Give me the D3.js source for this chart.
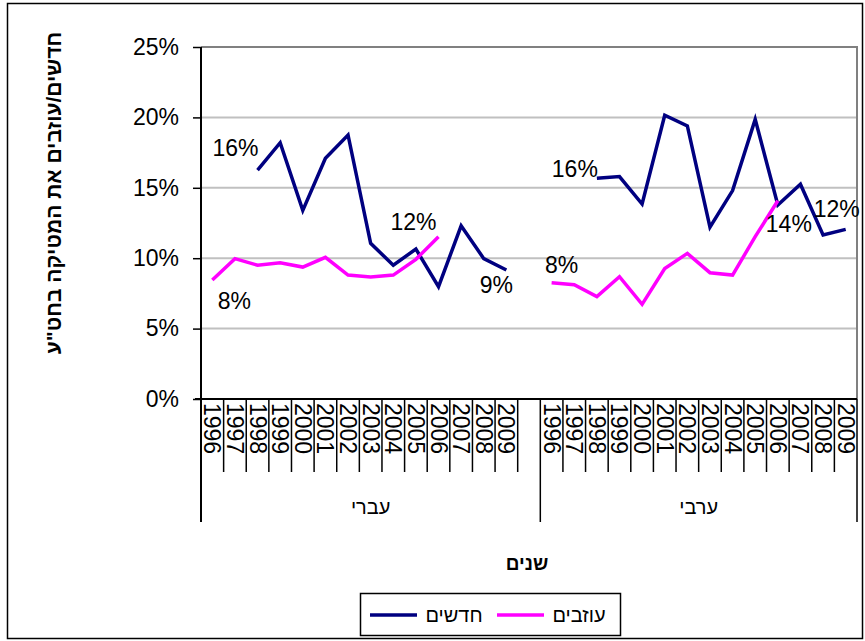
<!DOCTYPE html>
<html>
<head>
<meta charset="utf-8">
<script src="https://cdn.jsdelivr.net/npm/d3@7"></script>
<style>
    body { margin: 0; background: #fff; }
    text { font-family: 'Liberation Sans', Arial, sans-serif; }
</style>
</head>
<body>
<svg id="chart" width="865" height="641"></svg>
<script>
const years = ['1996', '1997', '1998', '1999', '2000', '2001', '2002', '2003', '2004', '2005', '2006', '2007', '2008', '2009'];
const groups = ['עברי', 'ערבי'];
const seriesNames = ['חדשים', 'עוזבים'];

// share of students, one value per year (null = no data)
const hebrewNew = [null, null, 0.1626, 0.182, 0.134, 0.171, 0.1875, 0.1106, 0.095, 0.1065, 0.0798, 0.123, 0.0997, 0.0916];
const hebrewLeave = [0.0845, 0.0997, 0.095, 0.0968, 0.0937, 0.1006, 0.088, 0.0866, 0.088, 0.0992, 0.1152, null, null, null];
const arabNew = [null, null, 0.1567, 0.158, 0.1385, 0.2015, 0.194, 0.122, 0.148, 0.1986, 0.1378, 0.1525, 0.1165, 0.1205];
const arabLeave = [0.0826, 0.0812, 0.0727, 0.0869, 0.0672, 0.0926, 0.1034, 0.0897, 0.088, 0.1153, 0.1408, null, null, null];

const yTicks = [0, 0.05, 0.1, 0.15, 0.2, 0.25];

// which points carry a data label, and where the label sits relative to the point
const labelSpots = [
    { g: 0, s: 0, year: '1998', dx: -22, dy: -22 },
    { g: 0, s: 1, year: '1996', dx: 22, dy: 21 },
    { g: 0, s: 1, year: '2006', dx: -25, dy: -15 },
    { g: 0, s: 0, year: '2009', dx: -10, dy: 15 },
    { g: 1, s: 0, year: '1998', dx: -22, dy: -9 },
    { g: 1, s: 1, year: '1996', dx: 10, dy: -18 },
    { g: 1, s: 1, year: '2006', dx: 11, dy: 23 },
    { g: 1, s: 0, year: '2009', dx: -9, dy: -20 },
];

const colors = ['#000080', '#ff00ff'];
const values = [
    [hebrewNew, hebrewLeave],
    [arabNew, arabLeave],
];

const svg = d3.select('#chart');
const plotLeft = 201, plotRight = 857, plotTop = 47, plotBottom = 399;
const font = 23;

// categories: 14 years, an empty slot, then 14 years again
const keys = [];
years.forEach((yr) => keys.push(`0-${yr}`));
keys.push('0-gap');
years.forEach((yr) => keys.push(`1-${yr}`));

const x = d3.scaleBand().domain(keys).range([plotLeft, plotRight]).padding(0);
const y = d3.scaleLinear().domain([0, 0.25]).range([plotBottom, plotTop]);
const bw = x.bandwidth();
const cx = (g, yr) => x(`${g}-${yr}`) + bw / 2;

svg.append('rect')
    .attr('x', 7.5).attr('y', 3.5)
    .attr('width', 855).attr('height', 635)
    .attr('fill', 'none').attr('stroke', '#000').attr('stroke-width', 1.5);

// gridlines
svg.append('g')
    .selectAll('line')
    .data(yTicks.slice(1, -1))
    .join('line')
    .attr('x1', plotLeft).attr('x2', plotRight)
    .attr('y1', (d) => y(d)).attr('y2', (d) => y(d))
    .attr('stroke', '#c0c0c0').attr('stroke-width', 2);

svg.append('path')
    .attr('d', `M${plotLeft},${y(0.25)}H${plotRight}V${plotBottom}`)
    .attr('fill', 'none').attr('stroke', '#808080').attr('stroke-width', 2);

// y axis
const yAxis = svg.append('g')
    .attr('transform', `translate(${plotLeft},0)`)
    .call(d3.axisLeft(y).tickValues(yTicks).tickFormat(d3.format('.0%')).tickSize(8).tickPadding(14));
yAxis.select('.domain').remove();
yAxis.selectAll('line').attr('stroke', '#000').attr('stroke-width', 1.5);
yAxis.selectAll('text').style('font-size', `${font}px`).attr('fill', '#000');

svg.append('line')
    .attr('x1', plotLeft).attr('x2', plotLeft).attr('y1', plotTop).attr('y2', 522)
    .attr('stroke', '#000').attr('stroke-width', 2);
svg.append('line')
    .attr('x1', plotLeft - 6).attr('x2', plotRight).attr('y1', plotBottom).attr('y2', plotBottom)
    .attr('stroke', '#000').attr('stroke-width', 2);

// category ticks and group separators
const edges = d3.range(keys.length + 1);
svg.append('g')
    .selectAll('line')
    .data(edges)
    .join('line')
    .attr('x1', (i) => plotLeft + i * bw).attr('x2', (i) => plotLeft + i * bw)
    .attr('y1', plotBottom)
    .attr('y2', (i) => (i === 0 || i === 15 || i === keys.length ? 522 : 472))
    .attr('stroke', '#000').attr('stroke-width', 1.5);

svg.append('g')
    .selectAll('text')
    .data(keys.filter((k) => !k.endsWith('gap')))
    .join('text')
    .attr('transform', (k) => `translate(${x(k) + bw / 2},403) rotate(90)`)
    .attr('dominant-baseline', 'central')
    .style('font-size', `${font}px`)
    .text((k) => k.split('-')[1]);

svg.append('g')
    .selectAll('text')
    .data(groups)
    .join('text')
    .attr('x', (d, g) => (g === 0 ? (plotLeft + x('1-1996')) / 2 : (x('1-1996') + plotRight) / 2))
    .attr('y', 507)
    .attr('text-anchor', 'middle')
    .attr('dominant-baseline', 'central')
    .style('font-size', '20px')
    .text((d) => d);

// lines
const line = d3.line()
    .defined((d) => d.v != null)
    .x((d) => cx(d.g, d.yr))
    .y((d) => y(d.v));

values.forEach((pair, g) => {
    pair.forEach((arr, s) => {
        svg.append('path')
            .datum(arr.map((v, i) => ({ g, yr: years[i], v })))
            .attr('d', line)
            .attr('fill', 'none')
            .attr('stroke', colors[s])
            .attr('stroke-width', 3.5)
            .attr('stroke-linejoin', 'miter');
    });
});

// data labels
svg.append('g')
    .selectAll('text')
    .data(labelSpots)
    .join('text')
    .attr('x', (d) => cx(d.g, d.year) + d.dx)
    .attr('y', (d) => y(values[d.g][d.s][years.indexOf(d.year)]) + d.dy)
    .attr('text-anchor', 'middle')
    .attr('dominant-baseline', 'central')
    .style('font-size', `${font}px`)
    .text((d) => d3.format('.0%')(values[d.g][d.s][years.indexOf(d.year)]));

// axis titles
svg.append('text')
    .attr('transform', 'translate(53,193) rotate(-90)')
    .attr('text-anchor', 'middle')
    .attr('dominant-baseline', 'central')
    .style('font-size', '21px')
    .style('font-weight', 'bold')
    .text('חדשים/עוזבים את המטיקה בחט"ע');

svg.append('text')
    .attr('x', 527).attr('y', 563)
    .attr('text-anchor', 'middle')
    .attr('dominant-baseline', 'central')
    .style('font-size', '19px')
    .style('font-weight', 'bold')
    .text('שנים');

// legend
const legend = svg.append('g');
legend.append('rect')
    .attr('x', 360.5).attr('y', 593.5).attr('width', 260).attr('height', 42)
    .attr('fill', '#fff').attr('stroke', '#000').attr('stroke-width', 1.5);
const items = legend.selectAll('g')
    .data(seriesNames)
    .join('g')
    .attr('transform', (d, i) => `translate(${370 + i * 127},615)`);
items.append('line')
    .attr('x1', 0).attr('x2', 47)
    .attr('stroke', (d, i) => colors[i]).attr('stroke-width', 3.5);
items.append('text')
    .attr('x', (d, i) => (i === 0 ? 84 : 82))
    .attr('text-anchor', 'middle')
    .attr('dominant-baseline', 'central')
    .style('font-size', '20px')
    .text((d) => d);
</script>
</body>
</html>
